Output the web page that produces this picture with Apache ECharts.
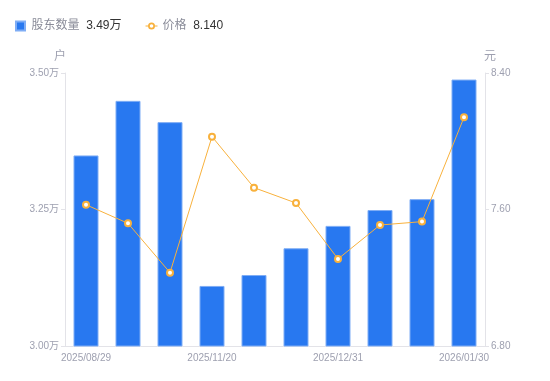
<!DOCTYPE html>
<html>
<head>
<meta charset="utf-8">
<script src="https://cdn.jsdelivr.net/npm/echarts@6/dist/echarts.min.js"></script>
<style>html,body{margin:0;padding:0;background:#fff}#c{width:550px;height:381px}</style>
</head>
<body>
<div id="c"></div>
<script>
const categories = ['2025/08/29','2025/09/19','2025/09/30','2025/11/20','2025/11/28','2025/12/10','2025/12/31','2026/01/09','2026/01/20','2026/01/30'];
const holders = [3.349, 3.449, 3.410, 3.110, 3.130, 3.179, 3.220, 3.249, 3.269, 3.488];
const prices = [7.628, 7.519, 7.230, 8.027, 7.728, 7.638, 7.310, 7.509, 7.529, 8.140];
const leftTicks = { min: 3.0, max: 3.5, interval: 0.25 };
const rightTicks = { min: 6.8, max: 8.4, interval: 0.8 };
const legendValues = { '股东数量': '3.49万', '价格': '8.140' };

const chart = echarts.init(document.getElementById('c'), null, { renderer: 'canvas' });
const labelColor = '#9ea0b0';
const axisColor = '#e3e3e8';
const font = '"Liberation Sans", "Noto Sans CJK SC", sans-serif';
chart.setOption({
  animation: false,
  textStyle: { fontFamily: font },
  legend: {
    left: 10, top: 15,
    itemWidth: 12, itemHeight: 9, itemGap: 24,
    formatter: name => '{n|' + name + '}  {v|' + legendValues[name] + '}',
    textStyle: {
      fontFamily: font,
      rich: {
        n: { color: '#8a8c99', fontSize: 12, fontFamily: font },
        v: { color: '#333', fontSize: 12, fontFamily: font }
      }
    },
    data: [
      { name: '股东数量', icon: 'path://M0,0H10V10H0Z' },
      { name: '价格', icon: 'path://M0,3.6H2.6V4.4H0Z M9.4,3.6H12V4.4H9.4Z M9.5,4A3.5,3.5 0 1,1 2.5,4A3.5,3.5 0 1,1 9.5,4Z M7.8,4A1.8,1.8 0 1,0 4.2,4A1.8,1.8 0 1,0 7.8,4Z' }
    ]
  },
  grid: { left: 65, right: 65, top: 73, bottom: 35 },
  xAxis: {
    type: 'category',
    data: categories,
    boundaryGap: true,
    axisLine: { lineStyle: { color: axisColor } },
    axisTick: { show: false },
    axisLabel: { interval: 2, color: labelColor, fontSize: 10, margin: 7 }
  },
  yAxis: [
    {
      type: 'value', name: '户', position: 'left',
      min: leftTicks.min, max: leftTicks.max, interval: leftTicks.interval,
      nameTextStyle: { color: labelColor, fontSize: 12, padding: [0, 10, 0, 0], fontFamily: font },
      nameGap: 10,
      axisLine: { show: true, lineStyle: { color: axisColor } },
      axisTick: { show: true, length: 4, lineStyle: { color: axisColor } },
      splitLine: { show: false },
      axisLabel: { color: labelColor, fontSize: 10, margin: 6, formatter: v => v.toFixed(2) + '万' }
    },
    {
      type: 'value', name: '元', position: 'right',
      min: rightTicks.min, max: rightTicks.max, interval: rightTicks.interval,
      nameTextStyle: { color: labelColor, fontSize: 12, padding: [0, 0, 0, 10], fontFamily: font },
      nameGap: 10,
      axisLine: { show: true, lineStyle: { color: axisColor } },
      axisTick: { show: true, length: 4, lineStyle: { color: axisColor } },
      splitLine: { show: false },
      axisLabel: { color: labelColor, fontSize: 10, margin: 6, formatter: v => v.toFixed(2) }
    }
  ],
  series: [
    {
      name: '股东数量', type: 'bar', yAxisIndex: 0,
      data: holders, barWidth: 25,
      itemStyle: { color: '#2878f0', borderColor: '#7fadf5', borderWidth: 1 }
    },
    {
      name: '价格', type: 'line', yAxisIndex: 1,
      data: prices,
      symbol: 'emptyCircle', symbolSize: 6,
      lineStyle: { color: '#f8b13c', width: 1 },
      itemStyle: { color: '#f8b13c', borderWidth: 2 }
    }
  ]
});
</script>
</body>
</html>
